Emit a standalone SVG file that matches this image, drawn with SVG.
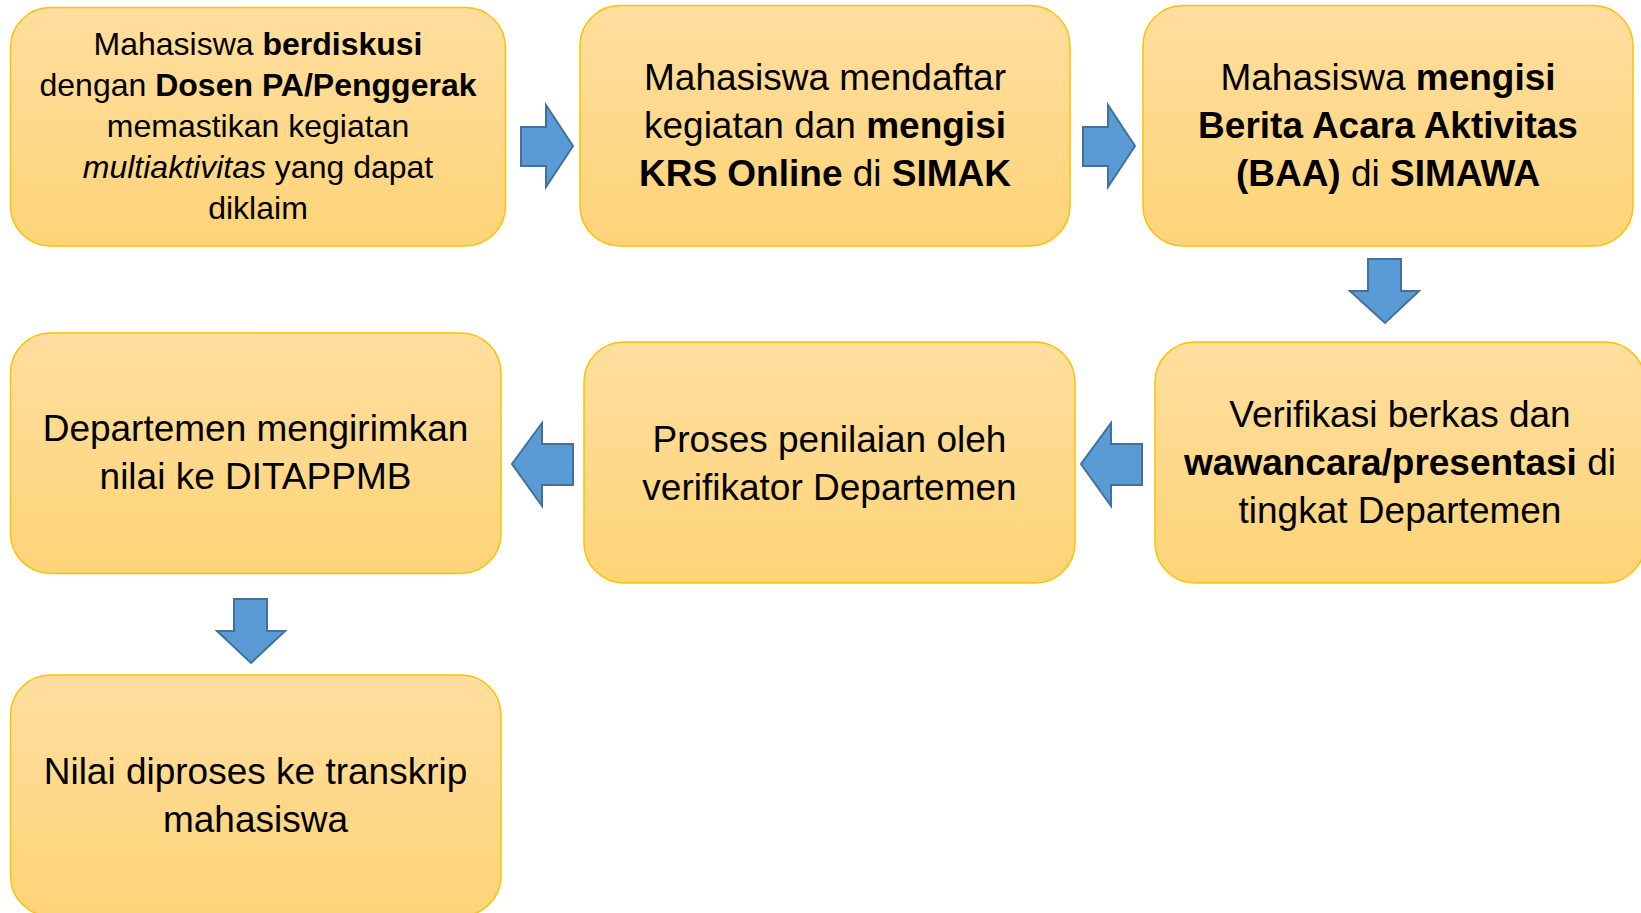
<svg xmlns="http://www.w3.org/2000/svg" width="1641" height="913" viewBox="0 0 1641 913">
<defs>
<linearGradient id="g" x1="0" y1="0" x2="0" y2="1">
<stop offset="0" stop-color="#FFDE9F"/>
<stop offset="1" stop-color="#FED478"/>
</linearGradient>
<style>
.box{fill:url(#g);stroke:#FFC000;stroke-width:1.5}
.arr{fill:#5B9BD5;stroke:#41719C;stroke-width:2;stroke-linejoin:miter}
text{font-family:"Liberation Sans",Arial,sans-serif;fill:#000;text-anchor:middle}
.s{font-size:32px}
.l{font-size:37px}
.b{font-weight:bold}
.i{font-style:italic}
</style>
</defs>
<rect width="1641" height="913" fill="#FFFFFF"/>
<g id="n1">
<rect class="box" x="10.5" y="7.5" width="495" height="238.5" rx="40"/>
<text class="s" x="258" y="55">Mahasiswa <tspan class="b">berdiskusi</tspan></text>
<text class="s" x="258" y="96">dengan <tspan class="b">Dosen PA/Penggerak</tspan></text>
<text class="s" x="258" y="137">memastikan kegiatan</text>
<text class="s" x="258" y="178"><tspan class="i">multiaktivitas</tspan> yang dapat</text>
<text class="s" x="258" y="219">diklaim</text>
</g>
<g id="n2">
<rect class="box" x="580" y="5.5" width="490" height="240.5" rx="40"/>
<text class="l" x="825" y="90">Mahasiswa mendaftar</text>
<text class="l" x="825" y="138">kegiatan dan <tspan class="b">mengisi</tspan></text>
<text class="l" x="825" y="186"><tspan class="b">KRS Online</tspan> di <tspan class="b">SIMAK</tspan></text>
</g>
<g id="n3">
<rect class="box" x="1143" y="5.5" width="490" height="240.5" rx="40"/>
<text class="l" x="1388" y="90">Mahasiswa <tspan class="b">mengisi</tspan></text>
<text class="l b" x="1388" y="138">Berita Acara Aktivitas</text>
<text class="l" x="1388" y="186"><tspan class="b">(BAA)</tspan> di <tspan class="b">SIMAWA</tspan></text>
</g>
<g id="n6">
<rect class="box" x="1155" y="342" width="490" height="241" rx="40"/>
<text class="l" x="1400" y="427">Verifikasi berkas dan</text>
<text class="l" x="1400" y="475"><tspan class="b">wawancara/presentasi</tspan> di</text>
<text class="l" x="1400" y="523">tingkat Departemen</text>
</g>
<g id="n5">
<rect class="box" x="584" y="342" width="491" height="241" rx="40"/>
<text class="l" x="829.5" y="452">Proses penilaian oleh</text>
<text class="l" x="829.5" y="500">verifikator Departemen</text>
</g>
<g id="n4">
<rect class="box" x="10.5" y="333" width="490.5" height="240.5" rx="40"/>
<text class="l" x="255.5" y="441">Departemen mengirimkan</text>
<text class="l" x="255.5" y="489">nilai ke DITAPPMB</text>
</g>
<g id="n7">
<rect class="box" x="10.5" y="675" width="490.5" height="241" rx="40"/>
<text class="l" x="255.5" y="784">Nilai diproses ke transkrip</text>
<text class="l" x="255.5" y="832">mahasiswa</text>
</g>
<g id="connectors">
<polygon class="arr" points="521,127 546,127 546,105 573,146 546,187 546,166 521,166"/>
<polygon class="arr" points="1083,127 1108,127 1108,105 1135,146 1108,187 1108,166 1083,166"/>
<polygon class="arr" points="1368,259 1401,259 1401,291 1419,291 1385,323 1350,291 1368,291"/>
<polygon class="arr" points="1142,444 1111,444 1111,423 1081,464 1111,506 1111,485 1142,485"/>
<polygon class="arr" points="573,444 542,444 542,423 512,464 542,506 542,485 573,485"/>
<polygon class="arr" points="234,599 267,599 267,631 285,631 251,663 217,631 234,631"/>
</g>
</svg>
